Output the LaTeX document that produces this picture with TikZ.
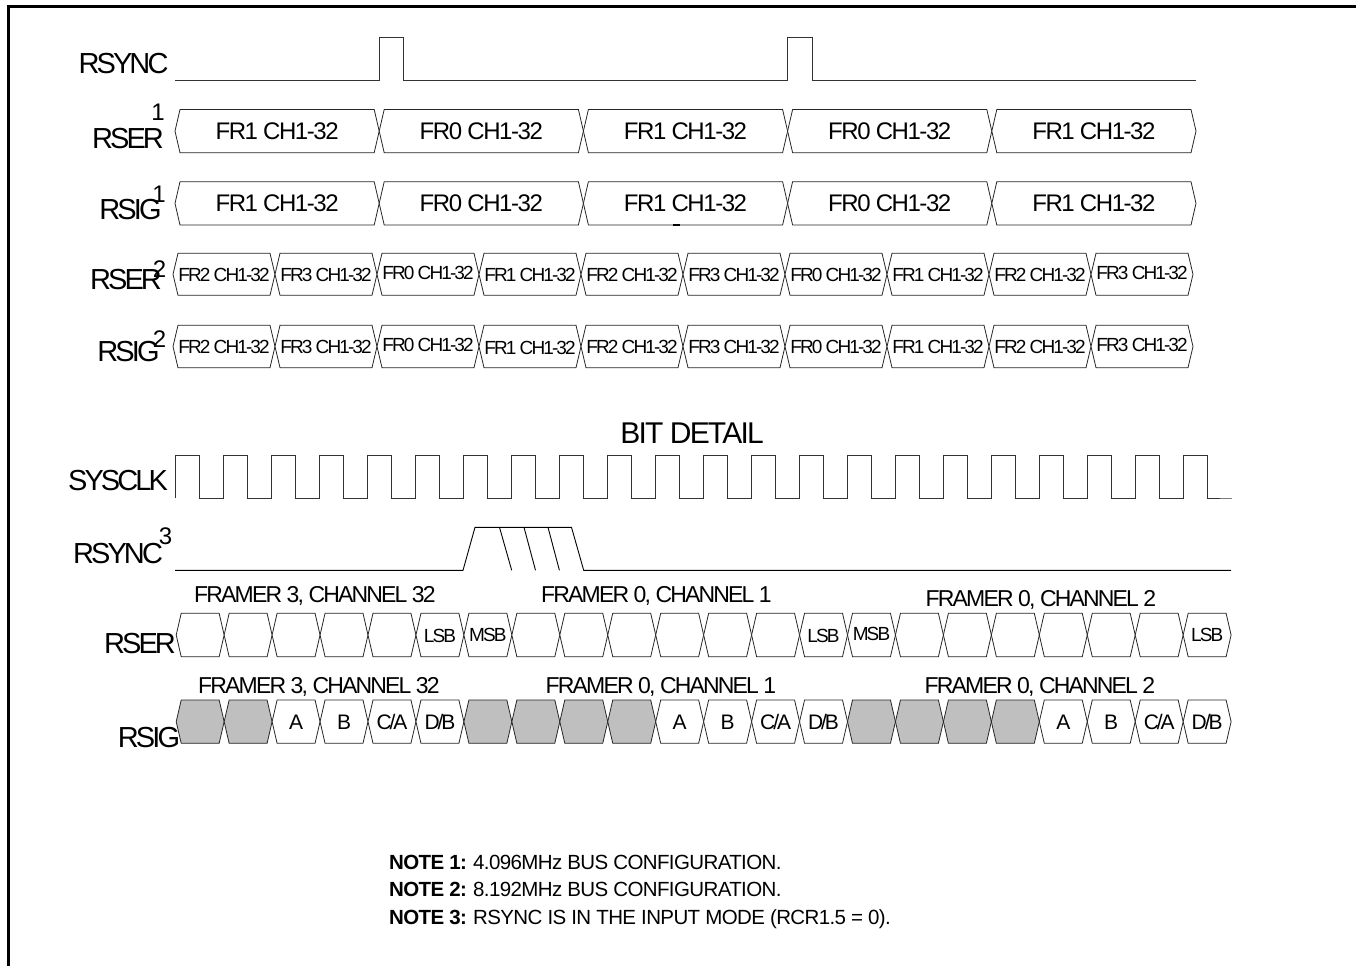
\documentclass[tikz,border=0pt]{standalone}
\usepackage{fontspec}
\setmainfont{Liberation Sans}
\newfontfamily\notefont[LetterSpace=-3]{Liberation Sans}
\newfontfamily\tightfont[LetterSpace=-6]{Liberation Sans}
\newfontfamily\framefont[LetterSpace=-8]{Liberation Sans}
\newfontfamily\tighterfont[LetterSpace=-10]{Liberation Sans}
\tikzset{
  wave/.style={line width=0.9pt,black!80},
  hexcell/.style={line width=0.8pt,draw=black!85,line join=miter},
  caps/.style={inner sep=0pt,text depth=0pt},
  siglabel/.style={caps,text height=20.8pt,font=\tighterfont\fontsize{29}{31}\selectfont},
  titlelabel/.style={caps,text height=21.5pt,font=\tightfont\fontsize{30}{32}\selectfont},
  sigindex/.style={caps,text height=17pt,font=\tightfont\fontsize{24}{26}\selectfont},
  bigcell/.style={caps,text height=17pt,font=\tightfont\fontsize{24}{26}\selectfont},
  smallcell/.style={caps,text height=13.6pt,font=\tighterfont\fontsize{19}{21}\selectfont},
  bitcell/.style={caps,text height=13.6pt,font=\tighterfont\fontsize{19}{21}\selectfont},
  sigcell/.style={caps,text height=15pt,font=\tighterfont\fontsize{21}{23}\selectfont},
  framelabel/.style={caps,text height=16.5pt,font=\framefont\fontsize{23}{25}\selectfont},
  notetext/.style={caps,text height=14.7pt,anchor=west,font=\notefont\fontsize{20.5}{22}\selectfont}
}
% #1 row name, #2 left x, #3 cell width, #4 top, #5 bottom, #6 text style, #7 text/shift/fill list
\newcommand{\busrow}[7]{
  \foreach \lab/\dy/\shade [count=\i from 0] in {#7} {
    \pgfmathsetmacro{\xa}{#2+\i*#3}
    \pgfmathsetmacro{\xb}{\xa+#3}
    \pgfmathsetmacro{\ym}{(#4+#5)/2}
    \filldraw [hexcell,fill=\shade] (\xa,\ym) -- (\xa+5,#4) -- (\xb-5,#4) -- (\xb,\ym) -- (\xb-5,#5) -- (\xa+5,#5) -- cycle;
    \path node (#1-\i) at ({(\xa+\xb)/2},\ym+\dy) [#6] {\lab};
  }
}
\begin{document}
\begin{tikzpicture}[x=1pt,y=-1pt]
\useasboundingbox (0,0) rectangle (1356,966);
\fill [white] (0,0) rectangle (1356,966);
\draw [line width=3pt] (8.7,966) -- (8.7,6.5) -- (1356,6.5);

% signal names, upper part
\path node (rsync) at (123.5,63) [siglabel] {RSYNC}
      node (rser1) at (128,138) [siglabel] {RSER}
      node (rser1x) at (158,111.5) [sigindex] {1}
      node (rsig1) at (130.5,209) [siglabel] {RSIG}
      node (rsig1x) at (159,194) [sigindex] {1}
      node (rser2) at (126,279.5) [siglabel] {RSER}
      node (rser2x) at (159.5,269) [sigindex] {2}
      node (rsig2) at (128.5,351) [siglabel] {RSIG}
      node (rsig2x) at (159.5,339) [sigindex] {2};

\draw [wave] (175,80) -- (379,80) -- (379,37.5) -- (403,37.5) -- (403,80) -- (787,80) -- (787,37.5) -- (812,37.5) -- (812,80) -- (1196,80);

\busrow{serone}{175}{204.2}{109.5}{152.7}{bigcell}{FR1 CH1-32/0/white,FR0 CH1-32/0/white,FR1 CH1-32/0/white,FR0 CH1-32/0/white,FR1 CH1-32/0/white}
\busrow{sigone}{175}{204.2}{181.7}{225}{bigcell}{FR1 CH1-32/0/white,FR0 CH1-32/0/white,FR1 CH1-32/0/white,FR0 CH1-32/0/white,FR1 CH1-32/0/white}
\fill [black] (672.5,224) rectangle (680,226);
\busrow{sertwo}{173}{102}{253.3}{295.3}{smallcell}{FR2 CH1-32/0/white,FR3 CH1-32/0/white,FR0 CH1-32/-1.5/white,FR1 CH1-32/0.5/white,FR2 CH1-32/0/white,FR3 CH1-32/0/white,FR0 CH1-32/0.5/white,FR1 CH1-32/0.5/white,FR2 CH1-32/0.5/white,FR3 CH1-32/-1.5/white}
\busrow{sigtwo}{173}{102}{325.3}{367.7}{smallcell}{FR2 CH1-32/0/white,FR3 CH1-32/0/white,FR0 CH1-32/-1.5/white,FR1 CH1-32/1.5/white,FR2 CH1-32/0.5/white,FR3 CH1-32/0/white,FR0 CH1-32/0.5/white,FR1 CH1-32/0.5/white,FR2 CH1-32/0.5/white,FR3 CH1-32/-1.5/white}

% bit detail
\path node (title) at (692,433) [titlelabel] {BIT DETAIL}
      node (sysclk) at (118,480.5) [siglabel] {SYSCLK}
      node (rsync3) at (118,553) [siglabel] {RSYNC}
      node (rsync3x) at (165.5,536) [sigindex] {3}
      node (rser) at (140,643) [siglabel] {RSER}
      node (rsig) at (149,737.5) [siglabel] {RSIG};

\draw [wave] (175.5,498) \foreach \k in {0,...,21} {
    -- (175.5+48*\k,455) -- (199.5+48*\k,455) -- (199.5+48*\k,498) -- (223.5+48*\k,498)
  } -- (1231,498);

\draw [wave,black] (175,570.3) -- (463,570.3) -- (475,527.3) -- (571.5,527.3) -- (583.7,570.3) -- (1231,570.3);
\draw [wave,black] (499.5,527.3) -- (511.7,570.3);
\draw [wave,black] (524,527.3) -- (535.5,570.3);
\draw [wave,black] (548,527.3) -- (559.4,570.3);

\path node (frsa) at (315,594) [framelabel] {FRAMER 3, CHANNEL 32}
      node (frsb) at (656.5,594) [framelabel] {FRAMER 0, CHANNEL 1}
      node (frsc) at (1041,598) [framelabel] {FRAMER 0, CHANNEL 2}
      node (frga) at (319,685) [framelabel] {FRAMER 3, CHANNEL 32}
      node (frgb) at (661,685) [framelabel] {FRAMER 0, CHANNEL 1}
      node (frgc) at (1040,685) [framelabel] {FRAMER 0, CHANNEL 2};

\busrow{serbit}{176.2}{47.95}{613.3}{656.7}{bitcell}{/0/white,/0/white,/0/white,/0/white,/0/white,LSB/0.5/white,MSB/0/white,/0/white,/0/white,/0/white,/0/white,/0/white,/0/white,LSB/0.5/white,MSB/-1/white,/0/white,/0/white,/0/white,/0/white,/0/white,/0/white,LSB/0/white}
\busrow{sigbit}{176.2}{47.95}{700}{743.3}{sigcell}{/0/lightgray,/0/lightgray,A/0/white,B/0/white,{C/A}/0/white,{D/B}/0/white,/0/lightgray,/0/lightgray,/0/lightgray,/0/lightgray,A/0/white,B/0/white,{C/A}/0/white,{D/B}/0/white,/0/lightgray,/0/lightgray,/0/lightgray,/0/lightgray,A/0/white,B/0/white,{C/A}/0/white,{D/B}/0/white}

% notes
\path node (note1) at (389,862) [notetext] {\textbf{NOTE 1:} 4.096MHz BUS CONFIGURATION.}
      node (note2) at (389,889.5) [notetext] {\textbf{NOTE 2:} 8.192MHz BUS CONFIGURATION.}
      node (note3) at (389,917) [notetext] {\textbf{NOTE 3:} RSYNC IS IN THE INPUT MODE (RCR1.5 = 0).};
\end{tikzpicture}
\end{document}
